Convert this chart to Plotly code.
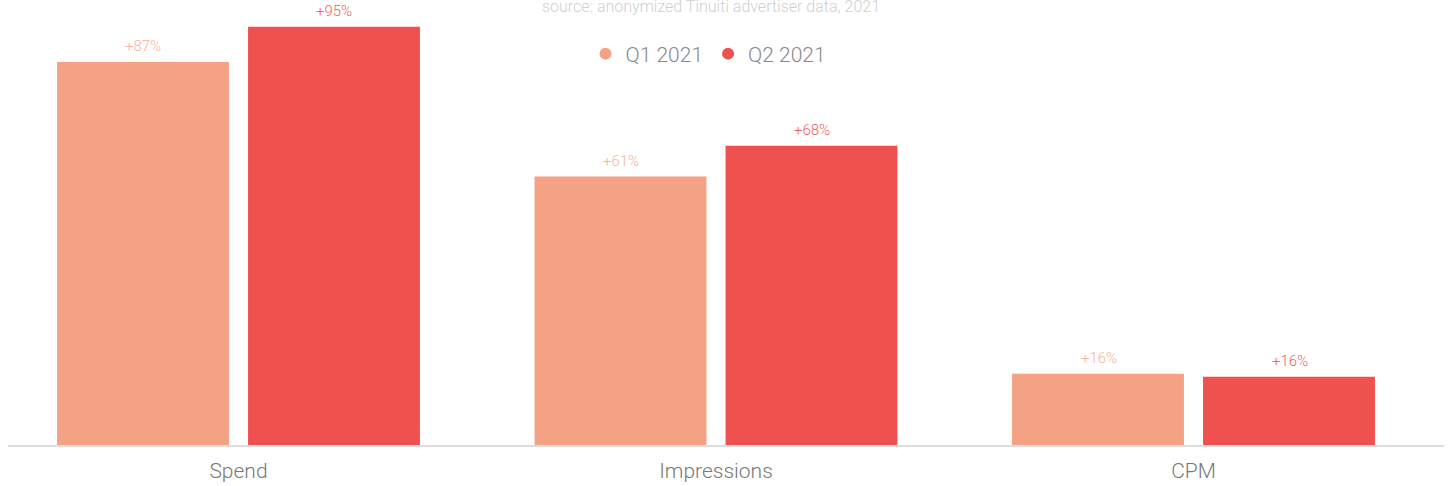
import plotly.graph_objects as go

categories = ["Spend", "Impressions", "CPM"]
q1_values = [87, 61, 16.2]
q2_values = [95, 68, 15.5]
q1_labels = ["+87%", "+61%", "+16%"]
q2_labels = ["+95%", "+68%", "+16%"]
series_names = ["Q1 2021", "Q2 2021"]
source_text = "source: anonymized Tinuiti advertiser data, 2021"

C1 = "#F4A284"
C2 = "#EF524E"
L1 = "#F8B29A"
L2 = "#F0605C"
FONT = "Roboto"

fig = go.Figure()
fig.add_trace(go.Bar(x=categories, y=q1_values, name=series_names[0], marker_color=C1,
                     marker_line_width=0, showlegend=False, hoverinfo="skip"))
fig.add_trace(go.Bar(x=categories, y=q2_values, name=series_names[1], marker_color=C2,
                     marker_line_width=0, showlegend=False, hoverinfo="skip"))
# legend-only markers (circles)
for name, col in zip(series_names, [C1, C2]):
    fig.add_trace(go.Scatter(x=[None], y=[None], mode="markers", name=name,
                             marker=dict(color=col, size=13, symbol="circle")))

annotations = []
for cat, v, t in zip(categories, q1_values, q1_labels):
    annotations.append(dict(x=cat, y=v, text=t, showarrow=False, xshift=-95, yshift=5,
                            yanchor="bottom", xanchor="center",
                            font=dict(family=FONT, size=15, color=L1, weight=300)))
for cat, v, t in zip(categories, q2_values, q2_labels):
    annotations.append(dict(x=cat, y=v, text=t, showarrow=False, xshift=96, yshift=5,
                            yanchor="bottom", xanchor="center",
                            font=dict(family=FONT, size=15, color=L2, weight=300)))
annotations.append(dict(xref="paper", yref="paper", x=0.4896, y=1, yshift=-6,
                        xanchor="center", yanchor="middle", showarrow=False,
                        text=source_text,
                        font=dict(family=FONT, size=16, color="#cfcfcf", weight=300)))

fig.update_layout(
    width=1450, height=486,
    margin=dict(l=8, r=6, t=0, b=41),
    paper_bgcolor="white", plot_bgcolor="white",
    barmode="group", bargap=0.2, bargroupgap=0.1,
    font=dict(family=FONT, color="#777777"),
    legend=dict(orientation="h", x=0.4878, xanchor="center", y=0.8787, yanchor="middle",
                font=dict(family=FONT, size=21, color="#888888", weight=300),
                itemsizing="constant", itemwidth=30, tracegroupgap=0),
    annotations=annotations,
    xaxis=dict(range=[-0.4827, 2.5246], showgrid=False, showline=True,
               linecolor="#dddddd", linewidth=2,
               ticks="", ticklabelstandoff=6,
               tickfont=dict(family=FONT, size=21, color="#777777", weight=300),
               zeroline=False),
    yaxis=dict(range=[0, 101.1], visible=False, showgrid=False, zeroline=False),
)

fig.write_html("out.html", config={"displayModeBar": False},
               post_script="document.body.style.margin='0';document.body.style.padding='0';")
